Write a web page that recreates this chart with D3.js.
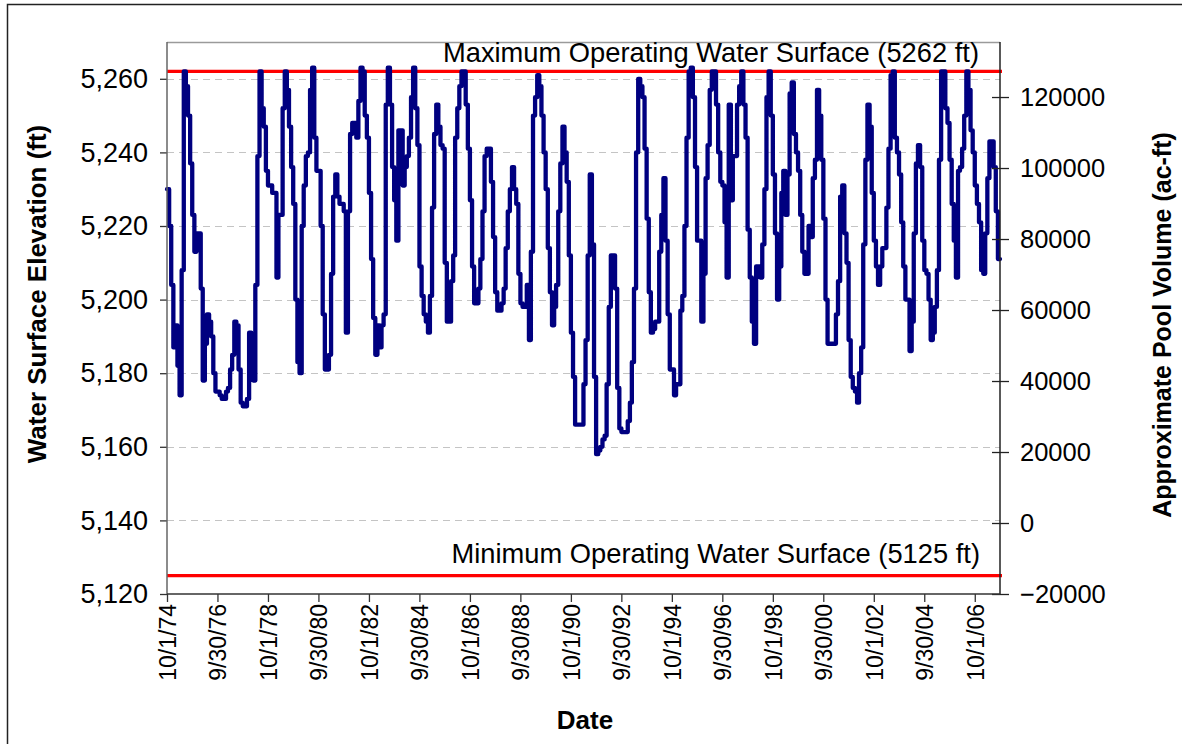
<!DOCTYPE html>
<html><head><meta charset="utf-8">
<script src="https://cdn.jsdelivr.net/npm/d3@7"></script>
<style>
body{margin:0;background:#fff}
text{font-family:"Liberation Sans",Arial,Helvetica,sans-serif}
</style>
</head><body>
<svg id="chart" width="1182" height="744"></svg>
<script>
// ---------------- data ----------------
const startDate = "10/1/74";
const endDate = "10/1/07";
const xTickLabels = ["10/1/74","9/30/76","10/1/78","9/30/80","10/1/82","9/30/84","10/1/86","9/30/88",
  "10/1/90","9/30/92","10/1/94","9/30/96","10/1/98","9/30/00","10/1/02","9/30/04","10/1/06"];
const leftTicks = [5120,5140,5160,5180,5200,5220,5240,5260];
const rightTicks = [-20000,0,20000,40000,60000,80000,100000,120000];
const maxOperating = 5262;
const minOperating = 5125;
const maxLabel = "Maximum Operating Water Surface (5262 ft)";
const minLabel = "Minimum Operating Water Surface (5125 ft)";
// monthly water surface elevation (ft), one row per water year Oct..Sep
const elevationFt = [
  5230,5220,5204,5187,5193,5182,5174,5208,5262,5258,5250,5237, // WY75
  5223,5213,5218,5218,5203,5178,5188,5196,5194,5190,5180,5175, // WY76
  5175,5174,5173,5173,5175,5176,5181,5185,5194,5193,5181,5172, // WY77
  5171,5171,5173,5191,5179,5178,5204,5239,5262,5252,5247,5235, // WY78
  5231,5231,5229,5229,5206,5223,5223,5252,5262,5257,5247,5236, // WY79
  5226,5200,5183,5180,5220,5231,5239,5240,5257,5263,5244,5235, // WY80
  5235,5220,5196,5181,5181,5185,5207,5228,5234,5228,5226,5226, // WY81
  5224,5191,5224,5245,5248,5248,5244,5254,5263,5262,5250,5244, // WY82
  5229,5211,5195,5185,5193,5187,5193,5196,5253,5263,5253,5236, // WY83
  5227,5216,5246,5246,5231,5236,5239,5244,5255,5263,5252,5242, // WY84
  5209,5201,5196,5194,5191,5201,5225,5245,5253,5247,5242,5241, // WY85
  5210,5194,5194,5205,5212,5244,5252,5258,5262,5262,5253,5241, // WY86
  5227,5209,5199,5199,5203,5211,5224,5239,5241,5241,5232,5217, // WY87
  5202,5197,5197,5199,5203,5214,5224,5230,5236,5230,5226,5207, // WY88
  5199,5198,5198,5204,5189,5213,5250,5255,5261,5258,5250,5240, // WY89
  5230,5214,5202,5193,5198,5204,5224,5237,5247,5240,5232,5212, // WY90
  5191,5179,5166,5166,5166,5166,5177,5189,5212,5234,5215,5179, // WY91
  5158,5159,5160,5162,5163,5177,5198,5212,5212,5203,5176,5165, // WY92
  5164,5164,5164,5167,5172,5183,5203,5240,5260,5258,5255,5241, // WY93
  5222,5202,5191,5192,5194,5194,5213,5223,5233,5216,5196,5181, // WY94
  5181,5174,5177,5177,5197,5201,5220,5244,5262,5263,5255,5236, // WY95
  5216,5216,5194,5207,5233,5242,5257,5262,5262,5253,5240,5232, // WY96
  5231,5221,5206,5253,5227,5239,5239,5253,5258,5262,5253,5244, // WY97
  5219,5206,5194,5188,5209,5209,5206,5215,5230,5255,5262,5250, // WY98
  5234,5218,5200,5209,5229,5235,5223,5234,5256,5259,5245,5240, // WY99
  5235,5223,5213,5207,5207,5220,5217,5233,5238,5257,5250,5238, // WY00
  5222,5200,5188,5188,5188,5188,5196,5205,5228,5231,5218,5210, // WY01
  5189,5179,5176,5175,5172,5180,5187,5215,5238,5253,5247,5229, // WY02
  5216,5209,5204,5209,5214,5214,5225,5241,5261,5262,5244,5240, // WY03
  5234,5221,5209,5200,5200,5186,5194,5218,5237,5242,5236,5216, // WY04
  5208,5207,5200,5189,5191,5198,5208,5238,5262,5262,5252,5248, // WY05
  5238,5226,5216,5206,5235,5236,5241,5250,5262,5257,5246,5240, // WY06
  5231,5226,5221,5208,5207,5218,5233,5243,5243,5236,5224,5211  // WY07
];

// ---------------- chart ----------------
const parse = d3.timeParse("%m/%d/%y");
const t0 = parse(startDate), t1 = parse(endDate);
const P = {left:167, right:1000, top:42, bottom:594};

const x = d3.scaleTime().domain([t0, t1]).range([P.left, P.right]);
const y = d3.scaleLinear().domain([5120, 5270]).range([P.bottom, P.top]);
const y2 = d3.scaleLinear().domain([-20000, 135500]).range([P.bottom, P.top]);

const svg = d3.select("#chart");
svg.append("rect").attr("width",1182).attr("height",744).attr("fill","#fff");
// outer frame
svg.append("rect").attr("x",7.5).attr("y",4.5).attr("width",1250).attr("height",800)
  .attr("fill","none").attr("stroke","#222").attr("stroke-width",1.5);

// gridlines
svg.append("g").selectAll("line").data(leftTicks.filter(d => d > 5120)).join("line")
  .attr("x1",P.left).attr("x2",P.right)
  .attr("y1",d=>Math.round(y(d))+0.5).attr("y2",d=>Math.round(y(d))+0.5)
  .attr("stroke","#c4c4c4").attr("stroke-width",1).attr("stroke-dasharray","7,5");

// plot top border
svg.append("line").attr("x1",P.left).attr("x2",P.right).attr("y1",P.top+0.5).attr("y2",P.top+0.5)
  .attr("stroke","#9a9a9a").attr("stroke-width",1.5);

// operating limits
[maxOperating, minOperating].forEach(v => {
  svg.append("line").attr("x1",P.left).attr("x2",P.right+2)
    .attr("y1",y(v)).attr("y2",y(v)).attr("stroke","#ff0000").attr("stroke-width",3.2);
});

// series
const series = elevationFt.map((v,i) => ({date: d3.timeMonth.offset(t0, i), v}));
series.push({date: t1, v: elevationFt[elevationFt.length-1]});
const line = d3.line().x(d=>x(d.date)).y(d=>y(d.v)).curve(d3.curveStepAfter);
svg.append("path").datum(series).attr("d",line)
  .attr("fill","none").attr("stroke","#000080").attr("stroke-width",4.3)
  .attr("stroke-linejoin","round").attr("stroke-linecap","round");

// left axis
const gL = svg.append("g").attr("transform",`translate(${P.left},0)`)
  .call(d3.axisLeft(y).tickValues(leftTicks).tickFormat(d3.format(",")).tickSize(7).tickPadding(12));
gL.select(".domain").remove();
gL.selectAll(".tick line").attr("stroke","#333").attr("stroke-width",1.3);
gL.selectAll(".tick text").attr("font-size",27).attr("fill","#000");
svg.append("line").attr("x1",P.left).attr("x2",P.left).attr("y1",P.top).attr("y2",P.bottom)
  .attr("stroke","#666").attr("stroke-width",1.5);

// right axis
const gR = svg.append("g").attr("transform",`translate(${P.right},0)`)
  .call(d3.axisRight(y2).tickValues(rightTicks).tickFormat(d3.format("d")).tickSize(9).tickPadding(11));
gR.select(".domain").remove();
gR.selectAll(".tick line").attr("x1",-8).attr("stroke","#222").attr("stroke-width",1.3);
gR.selectAll(".tick text").attr("font-size",25.5).attr("fill","#000");
svg.append("line").attr("x1",P.right).attr("x2",P.right).attr("y1",P.top).attr("y2",P.bottom)
  .attr("stroke","#222").attr("stroke-width",1.5);

// bottom axis
const tickDates = xTickLabels.map(parse);
const gB = svg.append("g").attr("transform",`translate(0,${P.bottom})`)
  .call(d3.axisBottom(x).tickValues(tickDates).tickFormat((d,i)=>xTickLabels[i]).tickSize(8));
gB.select(".domain").remove();
gB.selectAll(".tick line").attr("stroke","#333").attr("stroke-width",1.3);
gB.selectAll(".tick text").attr("font-size",23).attr("fill","#000")
  .attr("transform","rotate(-90)").attr("text-anchor","end")
  .attr("x",-10).attr("y",0).attr("dy","0.36em");
svg.append("line").attr("x1",P.left).attr("x2",P.right).attr("y1",P.bottom).attr("y2",P.bottom)
  .attr("stroke","#333").attr("stroke-width",1.5);

// annotations
svg.append("text").attr("x",979).attr("y",62).attr("text-anchor","end")
  .attr("font-size",27.3).text(maxLabel);
svg.append("text").attr("x",980).attr("y",563).attr("text-anchor","end")
  .attr("font-size",27.3).text(minLabel);

// titles
svg.append("text").attr("transform","translate(46,294) rotate(-90)").attr("text-anchor","middle")
  .attr("font-size",26).attr("font-weight","bold").text("Water Surface Elevation (ft)");
svg.append("text").attr("transform","translate(1171,325) rotate(-90)").attr("text-anchor","middle")
  .attr("font-size",25).attr("font-weight","bold").text("Approximate Pool Volume (ac-ft)");
svg.append("text").attr("x",585).attr("y",729).attr("text-anchor","middle")
  .attr("font-size",26).attr("font-weight","bold").text("Date");
</script>
</body></html>
